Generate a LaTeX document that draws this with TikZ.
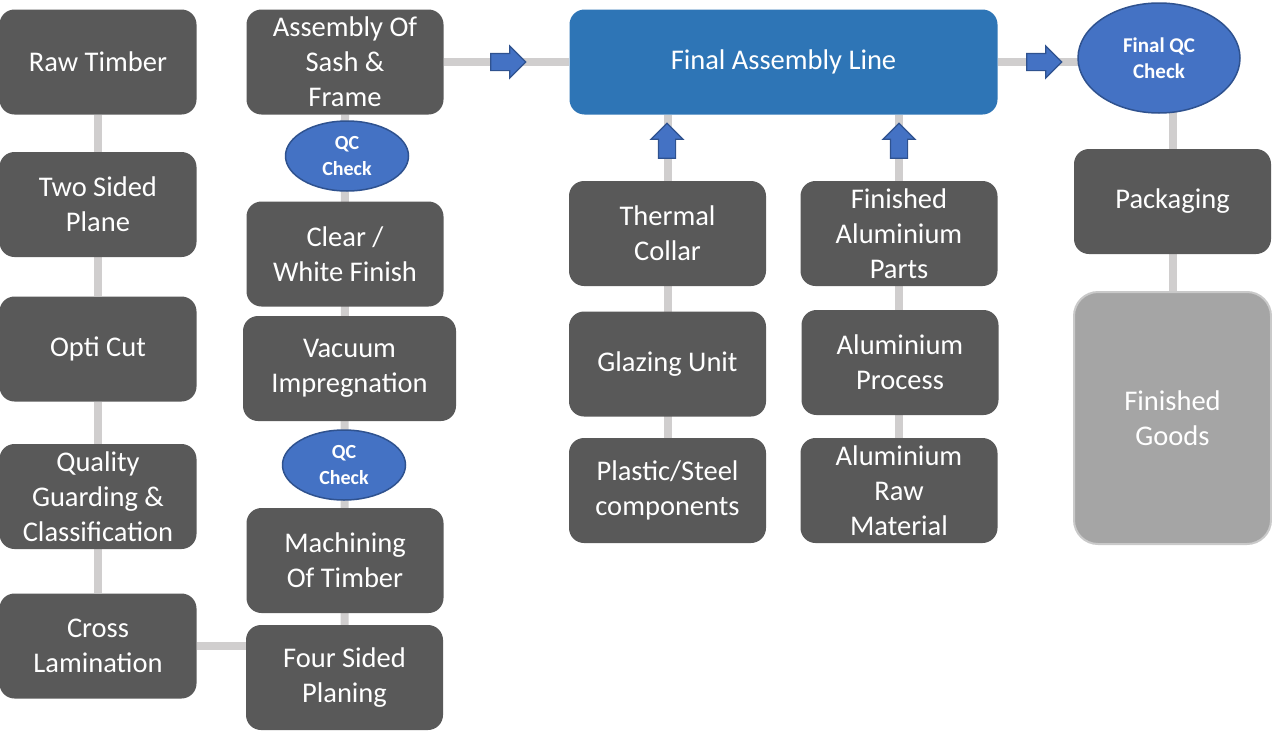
\documentclass[tikz,border=0pt]{standalone}
\usepackage{fontspec}
\setmainfont{Carlito}
\usetikzlibrary{shapes.geometric,shapes.arrows,backgrounds}
\definecolor{boxgrey}{HTML}{595959}
\definecolor{linkgrey}{HTML}{D0CECE}
\definecolor{lineblue}{HTML}{2E75B6}
\definecolor{qcblue}{HTML}{4472C4}
\definecolor{qcedge}{HTML}{2F528F}
\definecolor{goodsgrey}{HTML}{A5A5A5}
\definecolor{goodsedge}{HTML}{C9C9C9}
\tikzset{
  box/.style={rectangle, rounded corners=15pt, fill=boxgrey, text=white,
    minimum width=197pt, minimum height=105pt, inner sep=0pt, align=center,
    font=\fontsize{28.5}{35}\selectfont},
  qc/.style={ellipse, fill=qcblue, draw=qcedge, line width=1.5pt, text=white,
    minimum width=123pt, minimum height=70pt, inner sep=0pt, align=center,
    font=\bfseries\fontsize{20}{25.5}\selectfont},
  link/.style={draw=linkgrey, line width=8pt},
  blockarrow/.style={single arrow, fill=qcblue, draw=qcedge, line width=1.2pt,
    inner xsep=0pt, inner ysep=8pt, minimum height=35pt,
    single arrow head extend=7.5pt}
}
\begin{document}
\begin{tikzpicture}[x=1pt,y=-1pt]
        \useasboundingbox (0,0) rectangle (1272,731);
        % timber column
        \node [box] (raw) at (98,62) {Raw Timber};
        \node [box] (twoside) at (98,204.5) {Two Sided\\Plane};
        \node [box] (opti) at (98,349) {Opti Cut};
        \node [box] (quality) at (98,496.5) {Quality\\Guarding \&\\Classification};
        \node [box] (cross) at (98,646) {Cross\\Lamination};
        % sash and frame column
        \node [box] (asm) at (345,62) {Assembly Of\\Sash \&\\Frame};
        \node [qc] (qc1) at (347,156) {QC\\Check};
        \node [box] (clear) at (345,254) {Clear /\\White Finish};
        \node [box, minimum width=213pt] (vac) at (349.5,368.5) {Vacuum\\Impregnation};
        \node [qc] (qc2) at (344,465) {QC\\Check};
        \node [box] (mach) at (345,560.5) {Machining\\Of Timber};
        \node [box] (four) at (344.5,677.5) {Four Sided\\Planing};
        % final line
        \node [box, fill=lineblue, minimum width=428pt] (final) at (783.5,62) {Final Assembly Line};
        \node [qc, minimum width=162pt, minimum height=110pt, font=\bfseries\fontsize{21}{26.5}\selectfont] (fqc) at (1159,58) {Final QC\\Check};
        \node [box] (pack) at (1172.5,201.5) {Packaging};
        \node [box, fill=goodsgrey, draw=goodsedge, line width=2pt, rounded corners=24pt,
          minimum height=252pt] (goods) at (1172.5,418) {Finished\\Goods};
        % supply columns
        \node [box] (thermal) at (667.5,233.5) {Thermal\\Collar};
        \node [box] (glazing) at (667.5,364) {Glazing Unit};
        \node [box] (plastic) at (667.5,490.5) {Plastic/Steel\\components};
        \node [box] (alparts) at (899,233.5) {Finished\\Aluminium\\Parts};
        \node [box] (alproc) at (900,362.5) {Aluminium\\Process};
        \node [box] (alraw) at (899,490.5) {Aluminium\\Raw\\Material};
        % links
        \begin{scope}[on background layer]
          \foreach \a/\b in {raw/twoside, twoside/opti, opti/quality, quality/cross, pack/goods, asm/final}
            \draw [link] (\a) -- (\b);
          \draw [link] (asm.south) -- (four.north);
          \draw [link] (cross.east) -- (cross.east -| four.west);
          \draw [link] (final.east) -- (final.east -| fqc.center);
          \draw [link] (pack.north) -- (pack.north |- fqc.center);
          \draw [link] (plastic.north) -- (plastic.north |- final.south);
          \draw [link] (alraw.north) -- (alraw.north |- final.south);
        \end{scope}
        % block arrows
        \node [blockarrow] (arr1) at (504,62) {};
        \node [blockarrow] (arr2) at (1040,62) {};
        \node [blockarrow, rotate=90] (arr3) at (667,145) {};
        \node [blockarrow, rotate=90] (arr4) at (899,145) {};
\end{tikzpicture}
\end{document}
